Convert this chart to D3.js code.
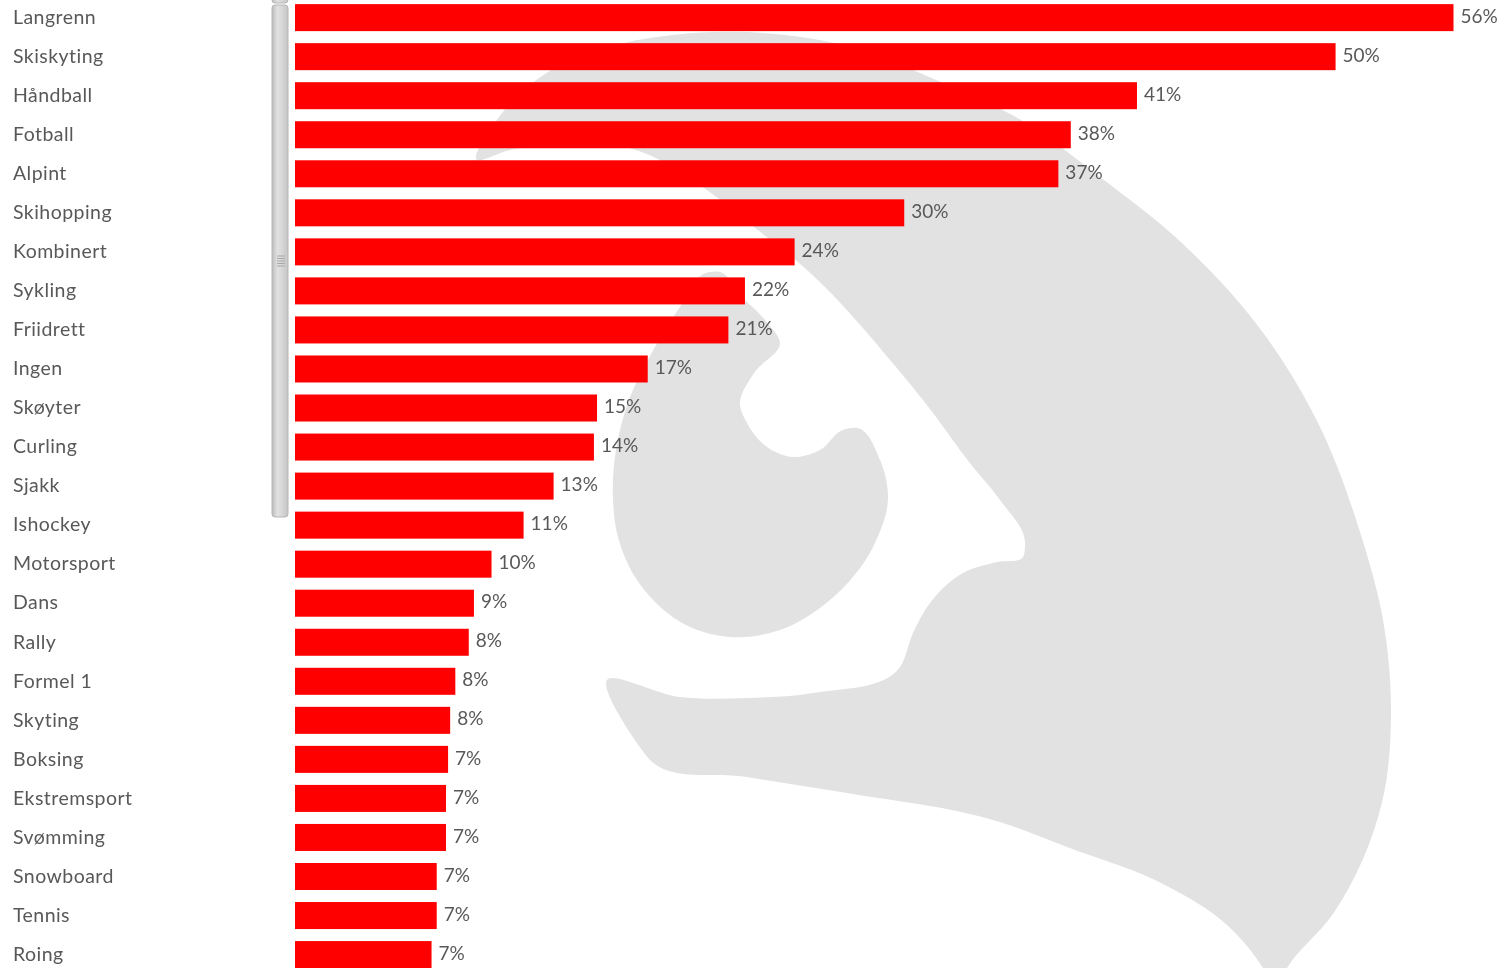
<!DOCTYPE html>
<html>
<head>
<meta charset="utf-8">
<script src="https://cdn.jsdelivr.net/npm/d3@7"></script>
<style>
  html, body { margin: 0; padding: 0; background: #fff; overflow: hidden; }
  svg { display: block; }
  text { font-family: Lato, "Open Sans", sans-serif; fill: #595959; }
</style>
</head>
<body>
<svg id="svg"></svg>
<script>
const sports = ['Langrenn', 'Skiskyting', 'Håndball', 'Fotball', 'Alpint', 'Skihopping', 'Kombinert',
  'Sykling', 'Friidrett', 'Ingen', 'Skøyter', 'Curling', 'Sjakk', 'Ishockey', 'Motorsport', 'Dans',
  'Rally', 'Formel 1', 'Skyting', 'Boksing', 'Ekstremsport', 'Svømming', 'Snowboard', 'Tennis', 'Roing'];
const shares = [56, 50.3, 40.7, 37.5, 36.9, 29.45, 24.15, 21.75, 20.95, 17.05, 14.6, 14.45, 12.5, 11.05, 9.5, 8.65,
  8.4, 7.75, 7.5, 7.4, 7.3, 7.3, 6.85, 6.85, 6.6];
const shareLabels = ['56%', '50%', '41%', '38%', '37%', '30%', '24%', '22%', '21%', '17%', '15%', '14%', '13%',
  '11%', '10%', '9%', '8%', '8%', '8%', '7%', '7%', '7%', '7%', '7%', '7%'];

// grey logo behind the bars
const logoOutline = [[477,160],[499,117],[539,78],[624,43],[673,35],[785,35],[834,43],[941,82],[1021,120],
  [1100,177],[1183,244],[1267,338],[1317,421],[1360,532],[1383,620],[1391,709],[1383,798],[1363,859],
  [1333,914],[1287,968],[1275,990],[1263,968],[1227,925],[1167,886],[1067,847],[1000,822],[847,793],[747,777],
  [650,760],[637,743],[607,680],[680,697],[747,698],[813,693],[900,667],[913,633],[930,603],[963,573],
  [997,562],[1023,557],[1025,543],[1000,500],[973,467],[923,400],[896,367],[807,270],[754,227],[704,188],
  [629,148],[560,146],[510,150]];
const logoCurl = [[709,272],[678,310],[655,347],[629,400],[613,480],[613,500],[617,533],[637,580],[690,627],
  [730,637],[780,630],[830,600],[873,547],[888,497],[880,460],[857,428],[843,430],[820,450],[793,457],
  [767,447],[747,423],[740,405],[754,373],[780,343],[765,320],[740,295],[720,272]];

const width = 1501;
const height = 968;

const svg = d3.select('#svg')
  .attr('width', width)
  .attr('height', height);

const defs = svg.append('defs');
defs.append('filter').attr('id', 'soft').append('feGaussianBlur').attr('stdDeviation', 0.7);
defs.append('filter').attr('id', 'edge').append('feGaussianBlur').attr('stdDeviation', 0.4);
const thumbFill = defs.append('linearGradient').attr('id', 'thumb');
thumbFill.append('stop').attr('offset', '0%').attr('stop-color', '#bdbdbd');
thumbFill.append('stop').attr('offset', '35%').attr('stop-color', '#e2e2e2');
thumbFill.append('stop').attr('offset', '100%').attr('stop-color', '#c6c6c6');

// SCALES
const xScale = d3.scaleLinear().domain([0, 56]).range([295, 1453.5]);
const yScale = d3.scaleBand().domain(sports).range([-1.9, 974.1]).paddingInner(0.308).paddingOuter(0.154);

// LOGO
const outline = d3.line().curve(d3.curveCatmullRomClosed.alpha(1));
svg.append('g')
  .attr('filter', 'url(#soft)')
  .selectAll('path')
  .data([logoOutline, logoCurl])
  .enter()
  .append('path')
  .attr('d', d => outline(d))
  .attr('fill', '#e2e2e2');

// SCROLLBAR
const scrollbar = svg.append('g').attr('filter', 'url(#edge)');
scrollbar.append('rect').attr('x', 272).attr('y', -6).attr('width', 16).attr('height', 9).attr('rx', 3)
  .attr('fill', 'url(#thumb)').attr('stroke', '#b5b5b5');
scrollbar.append('rect').attr('x', 272).attr('y', 5).attr('width', 16).attr('height', 512).attr('rx', 3)
  .attr('fill', 'url(#thumb)').attr('stroke', '#b5b5b5');
scrollbar.selectAll('line')
  .data([256, 258.5, 261, 263.5, 266])
  .enter()
  .append('line')
  .attr('x1', 277).attr('x2', 285)
  .attr('y1', d => d).attr('y2', d => d)
  .attr('stroke', '#a8a8a8');

// BARS
svg.append('g')
  .attr('filter', 'url(#edge)')
  .selectAll('rect')
  .data(sports)
  .enter()
  .append('rect')
  .attr('x', xScale(0))
  .attr('y', d => yScale(d))
  .attr('width', (d, i) => xScale(shares[i]) - xScale(0))
  .attr('height', yScale.bandwidth())
  .attr('fill', '#ff0000');

// Y AXIS
const yAxis = svg.append('g')
  .attr('transform', 'translate(13, 0)')
  .attr('filter', 'url(#soft)')
  .call(d3.axisLeft(yScale).tickSize(0));
yAxis.select('.domain').remove();
yAxis.selectAll('text')
  .attr('x', 0)
  .attr('text-anchor', 'start')
  .attr('font-size', 19.5)
  .style('font-family', 'Lato, "Open Sans", sans-serif')
  .style('letter-spacing', '0.45px')
  .attr('fill', '#595959');

// BAR LABELS
svg.append('g')
  .attr('filter', 'url(#soft)')
  .selectAll('text')
  .data(sports)
  .enter()
  .append('text')
  .attr('x', (d, i) => xScale(shares[i]) + 7)
  .attr('y', d => yScale(d) + yScale.bandwidth() / 2 - 1.5)
  .attr('dy', '0.35em')
  .attr('font-size', 19)
  .text((d, i) => shareLabels[i]);
</script>
</body>
</html>
